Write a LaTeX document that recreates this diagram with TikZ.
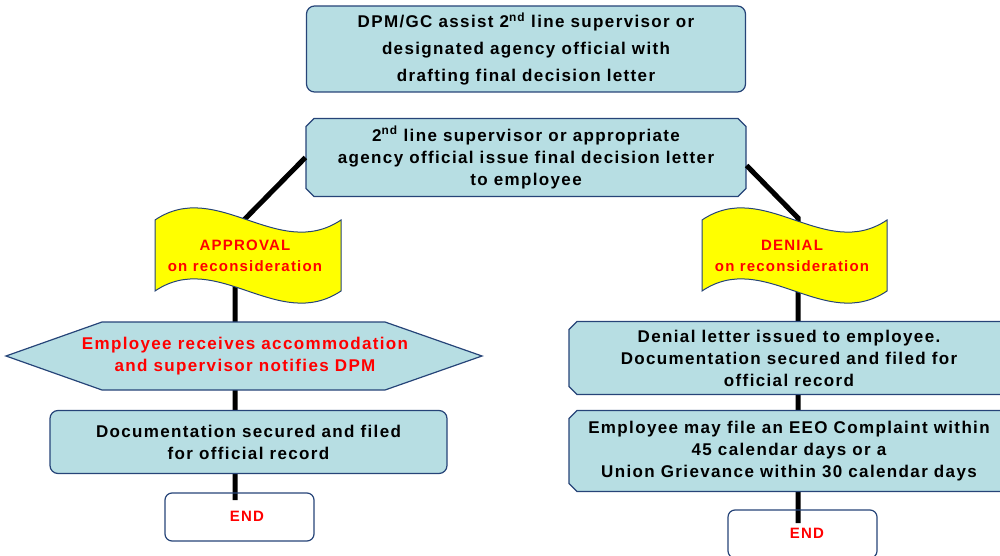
\documentclass[tikz,border=0pt]{standalone}
\usepackage{fontspec}
\setmainfont{Liberation Sans}[LetterSpace=8]
\usetikzlibrary{shapes.misc}
\definecolor{boxfill}{RGB}{183,222,227}
\definecolor{boxline}{RGB}{38,68,120}
\definecolor{alertred}{RGB}{255,0,0}
\definecolor{flagyellow}{RGB}{255,255,0}

\begin{document}
\begin{tikzpicture}[x=1pt,y=-1pt,
  txt/.style={font=\bfseries\fontsize{17}{22}\selectfont, align=center, inner sep=0pt},
  flagtxt/.style={font=\bfseries\fontsize{15}{21}\selectfont, align=center, inner sep=0pt, text=alertred},
  roundbox/.style={draw=boxline, fill=boxfill, line width=1.2pt, rounded corners=8pt, inner sep=0pt, txt},
  snipbox/.style={chamfered rectangle, chamfered rectangle xsep=4pt, chamfered rectangle ysep=4pt,
    draw=boxline, fill=boxfill, line width=1.2pt, inner sep=0pt, txt},
  hexshape/.style={draw=boxline, fill=boxfill, line width=1.2pt},
  endbox/.style={draw=boxline, line width=1.2pt, rounded corners=7pt, inner sep=0pt,
    minimum width=149pt, minimum height=48pt},
  flagshape/.style={draw=boxline, fill=flagyellow, line width=1pt},
  conn/.style={line width=5pt, black}
]
\useasboundingbox (0,0) rectangle (1000,556);
\clip (0,0) rectangle (1000,556);

% connector end points and bends
\coordinate (lbend) at (235,229);
\coordinate (lend) at (235,500);
\coordinate (rbend) at (798,218);
\coordinate (rend) at (798,523);

% top boxes
\node[roundbox, minimum width=439pt, minimum height=86pt, font=\bfseries\fontsize{17}{27}\selectfont]
  (A) at (526,49) {DPM/GC assist  2\textsuperscript{nd} line  supervisor or\\
  designated agency  official  with\\ drafting final  decision letter};
\node[snipbox, minimum width=440pt, minimum height=78pt]
  (B) at (526,157.5) {2\textsuperscript{nd} line  supervisor or appropriate\\
  agency official  issue  final  decision letter\\ to employee};

% connectors (drawn beneath the boxes)
\draw[conn] (B.west) -- (lbend) -- (lend);
\draw[conn] ([yshift=-8pt]B.east) -- (rbend) -- (rend);

% decision flags
\draw[flagshape] (155,220) .. controls (217,178) and (278,262) .. (341,220) -- (341,291)
  .. controls (278,333) and (217,249) .. (155,291) -- cycle;
\node[flagtxt] (apr) at (245,255.5) {APPROVAL\\on  reconsideration};
\draw[flagshape] (702,220) .. controls (764,178) and (825,262) .. (887,220) -- (887,291)
  .. controls (825,333) and (764,249) .. (702,291) -- cycle;
\node[flagtxt] (den) at (792,255.5) {DENIAL\\on  reconsideration};

% approval branch
\draw[hexshape] (6,356) -- (102,322) -- (385,322) -- (482,356) -- (385,390) -- (102,390) -- cycle;
\node[txt, text=alertred] (hex) at (245,356)
  {Employee  receives  accommodation\\ and  supervisor notifies  DPM};
\node[roundbox, minimum width=397pt, minimum height=63pt] (docL) at (248.5,442)
  {Documentation secured and  filed\\ for official  record};
\node[endbox] (endL) at (239.5,517) {};
\node[flagtxt, font=\bfseries\fontsize{15}{18}\selectfont] at (247,516) {END};

% denial branch
\node[snipbox, minimum width=440pt, minimum height=73pt] (denL) at (789,358)
  {Denial  letter  issued  to  employee.\\ Documentation secured and  filed  for\\ official  record};
\node[snipbox, minimum width=440pt, minimum height=81pt] (eeo) at (789,451)
  {Employee may  file  an  EEO  Complaint within\\ 45 calendar days  or  a\\ Union  Grievance within  30 calendar days};
\node[endbox] (endR) at (802.5,534) {};
\node[flagtxt, font=\bfseries\fontsize{15}{18}\selectfont] at (807,533) {END};
\end{tikzpicture}
\end{document}
